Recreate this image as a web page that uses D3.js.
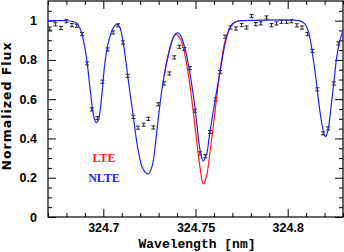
<!DOCTYPE html>
<html>
<head>
<meta charset="utf-8">
<script src="https://cdn.jsdelivr.net/npm/d3@7"></script>
<style>
  body { margin: 0; background: #fff; }
  svg { display: block; }
  .tick text { font-family: "Liberation Sans", Arial, sans-serif; font-weight: bold; font-size: 12.5px; fill: #000; }
</style>
</head>
<body>
<div id="chart"></div>
<script>
// ---- data ----
// observed spectrum (points with error bars)
const obsWave = [324.671, 324.674, 324.677, 324.680, 324.683, 324.6856, 324.6885, 324.6912, 324.6937, 324.6968,
  324.6995, 324.7024, 324.7053, 324.708, 324.7107, 324.7132, 324.7163, 324.7188, 324.7219, 324.7244,
  324.7271, 324.7298, 324.7329, 324.7358, 324.7385, 324.7412, 324.7439, 324.747, 324.7497, 324.7524,
  324.7553, 324.7578, 324.7609, 324.7634, 324.7661, 324.769, 324.7719, 324.775, 324.7777, 324.7804,
  324.7827, 324.7854, 324.7885, 324.7912, 324.7939, 324.7966, 324.7994, 324.802, 324.805, 324.8078,
  324.8107, 324.8134, 324.8161, 324.8192, 324.8219, 324.825, 324.8275];
const obsFlux = [0.960, 0.981, 0.963, 0.997, 0.977, 0.974, 0.931, 0.782, 0.548, 0.504,
  0.689, 0.853, 0.940, 0.976, 0.889, 0.719, 0.510, 0.455, 0.470, 0.500,
  0.456, 0.574, 0.680, 0.731, 0.813, 0.867, 0.855, 0.758, 0.541, 0.324,
  0.310, 0.433, 0.599, 0.738, 0.918, 0.965, 0.960, 0.977, 0.965, 1.023,
  0.982, 0.986, 1.016, 0.977, 0.986, 0.994, 0.994, 0.997, 0.976, 0.965,
  0.931, 0.846, 0.650, 0.426, 0.451, 0.680, 0.884];
const obsErr = 0.008;

// NLTE synthetic spectrum (blue)
const nlteWave = [324.670, 324.678, 324.682, 324.685, 324.6865, 324.688, 324.6899, 324.6913, 324.6926, 324.694,
  324.695, 324.6962, 324.6975, 324.6985, 324.6995, 324.7008, 324.7025, 324.7045, 324.706, 324.7076,
  324.709, 324.7105, 324.712, 324.7135, 324.7163, 324.7188, 324.7215, 324.7244, 324.7265, 324.728,
  324.7298, 324.7315, 324.733, 324.735, 324.737, 324.7385, 324.740, 324.7415, 324.743, 324.745,
  324.747, 324.7485, 324.7497, 324.751, 324.7525, 324.7542, 324.756, 324.7578, 324.7595, 324.7609,
  324.7634, 324.766, 324.768, 324.770, 324.773, 324.776, 324.806, 324.8085, 324.8102, 324.812,
  324.8134, 324.8152, 324.8174, 324.8192, 324.8205, 324.8219, 324.8235, 324.825, 324.8264, 324.8282,
  324.830];
const nlteFlux = [1.000, 1.000, 0.998, 0.990, 0.975, 0.945, 0.867, 0.782, 0.670, 0.560,
  0.505, 0.480, 0.500, 0.560, 0.650, 0.780, 0.880, 0.945, 0.972, 0.981,
  0.965, 0.905, 0.810, 0.700, 0.510, 0.345, 0.245, 0.219, 0.260, 0.350,
  0.500, 0.630, 0.720, 0.815, 0.890, 0.925, 0.938, 0.930, 0.900, 0.830,
  0.730, 0.640, 0.560, 0.450, 0.340, 0.285, 0.320, 0.433, 0.530, 0.610,
  0.745, 0.880, 0.950, 0.983, 0.998, 1.000, 1.000, 0.990, 0.970, 0.915,
  0.835, 0.714, 0.545, 0.443, 0.409, 0.443, 0.560, 0.680, 0.800, 0.895,
  0.950];

// LTE synthetic spectrum (red), only where it departs from NLTE
const lteWave = [324.733, 324.735, 324.737, 324.7385, 324.7394, 324.741, 324.743, 324.745, 324.747, 324.749,
  324.751, 324.7525, 324.7542, 324.756, 324.758, 324.760, 324.762, 324.764, 324.766, 324.768,
  324.770, 324.773, 324.776];
const lteFlux = [0.720, 0.815, 0.888, 0.922, 0.930, 0.918, 0.875, 0.790, 0.670, 0.520,
  0.360, 0.250, 0.168, 0.210, 0.340, 0.490, 0.650, 0.790, 0.895, 0.950,
  0.983, 0.998, 1.000];

const xMajor = [324.7, 324.75, 324.8];
const xLabels = ["324.7", "324.75", "324.8"];
const xMinor = [324.67, 324.68, 324.69, 324.71, 324.72, 324.73, 324.74, 324.76, 324.77, 324.78, 324.79, 324.81, 324.82, 324.83];
const yMajor = [0, 0.2, 0.4, 0.6, 0.8, 1];
const yLabels = ["0", "0.2", "0.4", "0.6", "0.8", "1"];
const yMinor = [0.05, 0.1, 0.15, 0.25, 0.3, 0.35, 0.45, 0.5, 0.55, 0.65, 0.7, 0.75, 0.85, 0.9, 0.95, 1.05];

const width = 344, height = 252;
const mLeft = 48, mRight = 343, mTop = 1, mBottom = 217;

const svg = d3.select('#chart')
    .append('svg')
    .attr('width', width)
    .attr('height', height);

const x = d3.scaleLinear().domain([324.67, 324.83]).range([mLeft, mRight]);
const y = d3.scaleLinear().domain([0, 1.1]).range([mBottom, mTop]);

svg.append('clipPath').attr('id', 'clip')
    .append('rect')
    .attr('x', mLeft).attr('y', mTop)
    .attr('width', mRight - mLeft).attr('height', mBottom - mTop);

// axes: ticks pointing inward on all four sides
function addAxis(axis, tx, ty) {
    const g = svg.append('g')
        .attr('transform', `translate(${tx},${ty})`)
        .call(axis);
    g.select('.domain').remove();
    g.selectAll('.tick line').attr('stroke', '#000').attr('stroke-width', 1);
    return g;
}

addAxis(d3.axisBottom(x).tickValues(xMajor).tickSize(-8).tickPadding(6)
    .tickFormat((d, i) => xLabels[i]), 0, mBottom);
addAxis(d3.axisBottom(x).tickValues(xMinor).tickSize(-4).tickFormat(''), 0, mBottom);
addAxis(d3.axisTop(x).tickValues(xMajor).tickSize(-8).tickFormat(''), 0, mTop);
addAxis(d3.axisTop(x).tickValues(xMinor).tickSize(-4).tickFormat(''), 0, mTop);

addAxis(d3.axisLeft(y).tickValues(yMajor).tickSize(-8).tickPadding(11)
    .tickFormat((d, i) => yLabels[i]), mLeft, 0);
addAxis(d3.axisLeft(y).tickValues(yMinor).tickSize(-4).tickFormat(''), mLeft, 0);
addAxis(d3.axisRight(y).tickValues(yMajor).tickSize(-8).tickFormat(''), mRight, 0);
addAxis(d3.axisRight(y).tickValues(yMinor).tickSize(-4).tickFormat(''), mRight, 0);

// frame
svg.append('rect')
    .attr('x', mLeft).attr('y', mTop)
    .attr('width', mRight - mLeft).attr('height', mBottom - mTop)
    .attr('fill', 'none')
    .attr('stroke', '#000')
    .attr('stroke-width', 1.2);

const plot = svg.append('g').attr('clip-path', 'url(#clip)');

// error bars
const obs = obsWave.map((w, i) => ({ w: w, f: obsFlux[i] }));
const bars = plot.selectAll('.err')
    .data(obs)
    .enter()
    .append('g')
    .attr('class', 'err')
    .attr('stroke', '#222')
    .attr('stroke-width', 1);
bars.append('line')
    .attr('x1', d => x(d.w)).attr('x2', d => x(d.w))
    .attr('y1', d => y(d.f - obsErr)).attr('y2', d => y(d.f + obsErr));
bars.append('line')
    .attr('x1', d => x(d.w) - 2).attr('x2', d => x(d.w) + 2)
    .attr('y1', d => y(d.f - obsErr)).attr('y2', d => y(d.f - obsErr));
bars.append('line')
    .attr('x1', d => x(d.w) - 2).attr('x2', d => x(d.w) + 2)
    .attr('y1', d => y(d.f + obsErr)).attr('y2', d => y(d.f + obsErr));

// model spectra
const line = d3.line()
    .x(d => x(d[0]))
    .y(d => y(d[1]))
    .curve(d3.curveCatmullRom.alpha(0.5));

plot.append('path')
    .datum(lteWave.map((w, i) => [w, lteFlux[i]]))
    .attr('d', line)
    .attr('fill', 'none')
    .attr('stroke', '#ff1a1a')
    .attr('stroke-width', 1.2);

plot.append('path')
    .datum(nlteWave.map((w, i) => [w, nlteFlux[i]]))
    .attr('d', line)
    .attr('fill', 'none')
    .attr('stroke', '#2424e6')
    .attr('stroke-width', 1.2);

// legend labels
svg.append('text')
    .attr('x', 104).attr('y', 162)
    .attr('text-anchor', 'middle')
    .style('font-family', '"Liberation Serif", serif')
    .style('font-weight', 'bold')
    .style('font-size', '12px')
    .attr('fill', '#ff1a1a')
    .text('LTE');
svg.append('text')
    .attr('x', 104).attr('y', 182)
    .attr('text-anchor', 'middle')
    .style('font-family', '"Liberation Serif", serif')
    .style('font-weight', 'bold')
    .style('font-size', '12px')
    .attr('fill', '#2424e6')
    .text('NLTE');

// axis titles
svg.append('text')
    .attr('x', 197).attr('y', 248)
    .attr('text-anchor', 'middle')
    .style('font-family', '"Liberation Mono", monospace')
    .style('font-weight', 'bold')
    .style('font-size', '13px')
    .attr('fill', '#000')
    .text('Wavelength [nm]');
svg.append('text')
    .attr('transform', 'translate(11,106) rotate(-90)')
    .attr('text-anchor', 'middle')
    .style('font-family', '"DejaVu Sans", sans-serif')
    .style('font-weight', 'bold')
    .style('font-size', '12.5px')
    .style('letter-spacing', '1px')
    .attr('fill', '#000')
    .text('Normalized Flux');
</script>
</body>
</html>
